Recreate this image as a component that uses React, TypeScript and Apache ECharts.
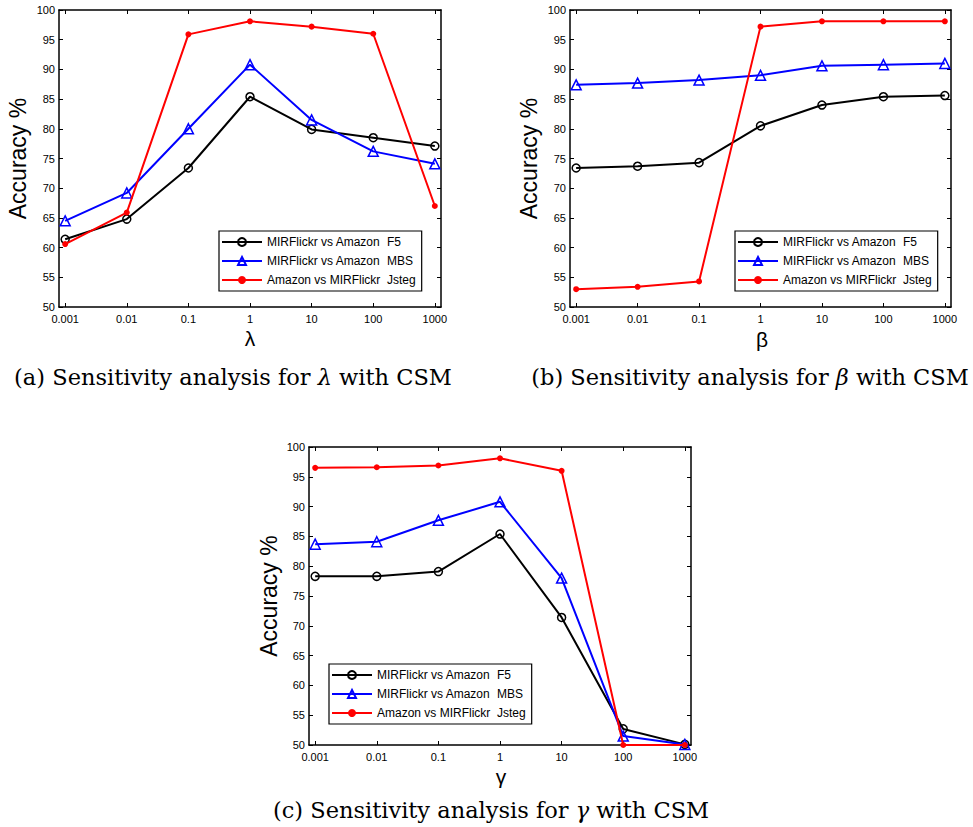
import React, { useEffect, useRef } from "react";
import * as echarts from "echarts";

const xLabels = ["0.001", "0.01", "0.1", "1", "10", "100", "1000"];
const seriesNames = ["MIRFlickr vs Amazon   F5", "MIRFlickr vs Amazon   MBS", "Amazon vs MIRFlickr   Jsteg"];

const lambdaF5 = [61.4, 64.8, 73.4, 85.4, 79.9, 78.5, 77.1];
const lambdaMBS = [64.5, 69.2, 80.0, 90.8, 81.5, 76.2, 74.1];
const lambdaJsteg = [60.6, 65.9, 95.9, 98.1, 97.2, 96.0, 67.0];

const betaF5 = [73.4, 73.7, 74.3, 80.5, 84.0, 85.4, 85.6];
const betaMBS = [87.4, 87.7, 88.2, 89.0, 90.6, 90.8, 91.0];
const betaJsteg = [53.0, 53.4, 54.3, 97.2, 98.1, 98.1, 98.1];

const gammaF5 = [78.3, 78.3, 79.1, 85.4, 71.4, 52.7, 50.1];
const gammaMBS = [83.7, 84.1, 87.7, 90.8, 78.0, 51.5, 50.1];
const gammaJsteg = [96.5, 96.6, 96.9, 98.1, 96.0, 50.0, 50.0];

const yTicksMin = 50;
const yTicksMax = 100;
const yTickStep = 5;

const SANS = "'Liberation Sans', Arial, Helvetica, sans-serif";
const SERIF = "'DejaVu Serif', 'Liberation Serif', serif";

const grids = [
  { left: 59, top: 10, width: 382, height: 297 },
  { left: 570, top: 10, width: 381, height: 297 },
  { left: 309, top: 447, width: 382, height: 298 },
];
const legendPos = [
  { left: 219, top: 231 },
  { left: 735, top: 231 },
  { left: 329, top: 664 },
];
const panelData = [
  [lambdaF5, lambdaMBS, lambdaJsteg],
  [betaF5, betaMBS, betaJsteg],
  [gammaF5, gammaMBS, gammaJsteg],
];

const idx = xLabels.map((_, i) => i);

function makeXAxis(gi: number, pos: "bottom" | "top") {
  return {
    gridIndex: gi,
    type: "value",
    position: pos,
    min: -0.1,
    max: 6.1,
    axisLine: { show: true, onZero: false, lineStyle: { color: "#000", width: 1.5 } },
    axisTick: { show: true, inside: true, length: 4, customValues: idx, lineStyle: { color: "#000", width: 1 } },
    axisLabel: {
      show: pos === "bottom",
      customValues: idx,
      formatter: (v: number) => xLabels[Math.round(v)] ?? "",
      fontSize: 11,
      color: "#000",
      margin: 6,
      fontFamily: SANS,
    },
    splitLine: { show: false },
  };
}

function makeYAxis(gi: number, pos: "left" | "right") {
  return {
    gridIndex: gi,
    type: "value",
    position: pos,
    min: yTicksMin,
    max: yTicksMax,
    interval: yTickStep,
    axisLine: { show: true, onZero: false, lineStyle: { color: "#000", width: 1.5 } },
    axisTick: { show: true, inside: true, length: 4, lineStyle: { color: "#000", width: 1 } },
    axisLabel: {
      show: pos === "left",
      fontSize: 11,
      color: "#000",
      margin: 4,
      fontFamily: SANS,
    },
    splitLine: { show: false },
  };
}

const styles = [
  { color: "#000000", symbol: "circle", size: 8, hollow: true },
  { color: "#0000ff", symbol: "triangle", size: 10, hollow: true },
  { color: "#ff0000", symbol: "circle", size: 6, hollow: false },
];

export default function App() {
  const ref = useRef<HTMLDivElement>(null);
  useEffect(() => {
    if (!ref.current) return;
    const chart = echarts.init(ref.current, null, { renderer: "svg" });

    const xAxis: any[] = [];
    const yAxis: any[] = [];
    const series: any[] = [];
    grids.forEach((_, gi) => {
      xAxis.push(makeXAxis(gi, "bottom"));
      xAxis.push(makeXAxis(gi, "top"));
      yAxis.push(makeYAxis(gi, "left"));
      yAxis.push(makeYAxis(gi, "right"));
      panelData[gi].forEach((vals, si) => {
        const st = styles[si];
        series.push({
          type: "line",
          name: seriesNames[si],
          xAxisIndex: gi * 2,
          yAxisIndex: gi * 2,
          data: vals.map((v, i) => [i, v]),
          clip: false,
          color: st.color,
          symbol: st.symbol,
          symbolSize: st.size,
          showSymbol: true,
          lineStyle: { color: st.color, width: 2 },
          itemStyle: st.hollow
            ? { color: "rgba(255,255,255,0)", borderColor: st.color, borderWidth: 1.5 }
            : { color: st.color, borderColor: st.color, borderWidth: 0 },
          z: 3 + si,
        });
      });
    });

    const legends = legendPos.map((p) => ({
      left: p.left,
      top: p.top,
      orient: "vertical",
      data: seriesNames,
      itemWidth: 40,
      itemHeight: 10,
      itemGap: 7,
      padding: [5, 6, 5, 2],
      borderColor: "#000",
      borderWidth: 1.2,
      backgroundColor: "#fff",
      selectedMode: false,
      formatter: (name: string) => {
        const parts = name.split("   ");
        return `{a|${parts[0]}}{b|${parts[1]}}`;
      },
      textStyle: {
        fontSize: 12,
        color: "#000",
        fontFamily: SANS,
        rich: {
          a: { width: 120, fontSize: 12, fontFamily: SANS, color: "#000" },
          b: { fontSize: 12, fontFamily: SANS, color: "#000" },
        },
      },
    }));

    const yNames = [
      { x: 18, y: 158.5 },
      { x: 529, y: 158.5 },
      { x: 269, y: 596 },
    ];
    const xNames = [
      { x: 250, y: 338, t: "λ" },
      { x: 762, y: 339, t: "β" },
      { x: 501, y: 776, t: "γ" },
    ];
    const captions = [
      { x: 233, y: 377, l: "(a)", g: "λ" },
      { x: 750, y: 377, l: "(b)", g: "β" },
      { x: 491, y: 810, l: "(c)", g: "γ" },
    ];

    const graphic: any[] = [];
    yNames.forEach((p) => {
      graphic.push({
        type: "text",
        x: p.x,
        y: p.y,
        rotation: Math.PI / 2,
        style: {
          text: "Accuracy %",
          fontSize: 23,
          fontFamily: SANS,
          fill: "#000",
          align: "center",
          verticalAlign: "middle",
        },
      });
    });
    xNames.forEach((p) => {
      graphic.push({
        type: "text",
        x: p.x,
        y: p.y,
        style: {
          text: p.t,
          fontSize: 21,
          fontFamily: SANS,
          fill: "#000",
          align: "center",
          verticalAlign: "middle",
        },
      });
    });
    captions.forEach((c) => {
      graphic.push({
        type: "text",
        x: c.x,
        y: c.y,
        style: {
          text: `{r|${c.l} Sensitivity analysis for }{i|${c.g}}{r| with CSM}`,
          align: "center",
          verticalAlign: "middle",
          fill: "#000",
          rich: {
            r: { fontSize: 22.5, fontFamily: SERIF, fill: "#000" },
            i: { fontSize: 22.5, fontFamily: SERIF, fontStyle: "italic", fill: "#000" },
          },
        },
      });
    });

    chart.setOption({
      animation: false,
      backgroundColor: "#fff",
      grid: grids.map((g) => ({ ...g, containLabel: false })),
      xAxis,
      yAxis,
      series,
      legend: legends,
      graphic,
    });
    return () => chart.dispose();
  }, []);

  return (
    <div
      ref={ref}
      style={{ position: "absolute", left: 0, top: 0, width: 973, height: 827, background: "#fff" }}
    />
  );
}
